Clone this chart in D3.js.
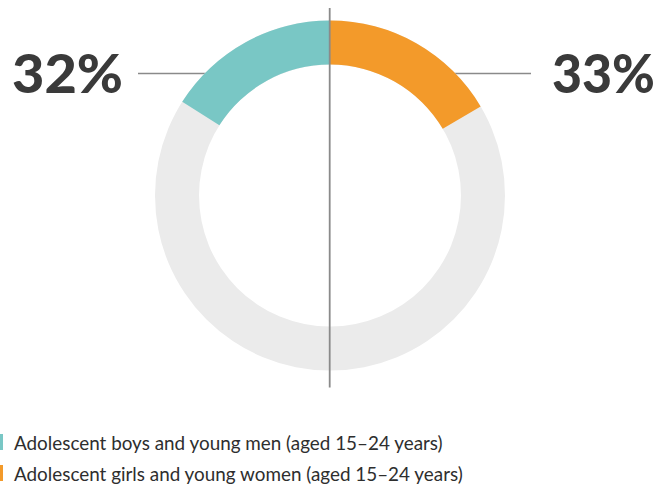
<!DOCTYPE html>
<html>
<head>
<meta charset="utf-8">
<script src="https://cdn.jsdelivr.net/npm/d3@7"></script>
<style>
  html, body { margin: 0; padding: 0; background: #fff; }
  svg { display: block; }
</style>
</head>
<body>
<svg id="chart" width="664" height="486"></svg>
<script>
// ---- data ----
const categories = [
  "Adolescent boys and young men (aged 15\u201324 years)",
  "Adolescent girls and young women (aged 15\u201324 years)"
];
const values = [32, 33];
const valueLabels = ["32%", "33%"];
const colors = ["#79C7C5", "#F39A2A"];
const trackColor = "#EBEBEB";

// ---- layout ----
const cx = 330, cy = 195.5;
const rOuter = 175, rInner = 131;
const textColor = "#3a3a3a";
const ruleColor = "#8a8a8a";

const svg = d3.select("#chart");

// percentage -> angle over a half circle
const angle = d3.scaleLinear().domain([0, 100]).range([0, Math.PI]);
const arc = d3.arc().innerRadius(rInner).outerRadius(rOuter);

const g = svg.append("g").attr("transform", `translate(${cx},${cy})`);

// leader lines (behind arcs)
const labelY = 73.5;
g.append("line")
  .attr("x1", 138 - cx).attr("x2", 240 - cx)
  .attr("y1", labelY - cy).attr("y2", labelY - cy)
  .attr("stroke", ruleColor).attr("stroke-width", 1.5);
g.append("line")
  .attr("x1", 420 - cx).attr("x2", 531 - cx)
  .attr("y1", labelY - cy).attr("y2", labelY - cy)
  .attr("stroke", ruleColor).attr("stroke-width", 1.5);

// track
g.append("path")
  .attr("d", arc({startAngle: 0, endAngle: 2 * Math.PI}))
  .attr("fill", trackColor);

// series arcs: first goes counter-clockwise from top, second clockwise
const segs = values.map((v, i) => i === 0
  ? {startAngle: -angle(v), endAngle: 0}
  : {startAngle: 0, endAngle: angle(v)});
g.selectAll("path.seg").data(segs).join("path")
  .attr("class", "seg")
  .attr("d", d => arc(d))
  .attr("fill", (d, i) => colors[i]);

// vertical axis line
svg.append("line")
  .attr("x1", cx - 0.3).attr("x2", cx - 0.3)
  .attr("y1", 8).attr("y2", 387.5)
  .attr("stroke", ruleColor).attr("stroke-width", 1.8);

// big labels
const bigFont = "Lato, 'Open Sans', sans-serif";
const bigPos = [{x: 12, w: 111}, {x: 552, w: 103}];
valueLabels.forEach((lab, i) => {
  svg.append("text")
    .attr("x", bigPos[i].x).attr("y", 92.5)
    .attr("font-family", bigFont).attr("font-weight", 900)
    .attr("font-size", 54).attr("fill", textColor)
    .attr("textLength", bigPos[i].w)
    .attr("lengthAdjust", "spacingAndGlyphs")
    .text(lab);
});

// legend
const legY = [450, 481];
const leg = svg.append("g");
categories.forEach((c, i) => {
  leg.append("rect")
    .attr("x", 0).attr("y", legY[i] - 16)
    .attr("width", 3).attr("height", 16)
    .attr("fill", colors[i]);
  leg.append("text")
    .attr("x", 14).attr("y", legY[i])
    .attr("font-family", "Lato, 'Open Sans', sans-serif")
    .attr("font-weight", 400)
    .attr("font-size", 18)
    .attr("fill", "#2e2e2e")
    .text(c);
});
// fit legend font size to reference width of first line
const first = leg.selectAll("text").nodes()[0];
const w = first.getComputedTextLength();
const fs = 18 * 429 / w;
leg.selectAll("text").attr("font-size", fs);
</script>
</body>
</html>
